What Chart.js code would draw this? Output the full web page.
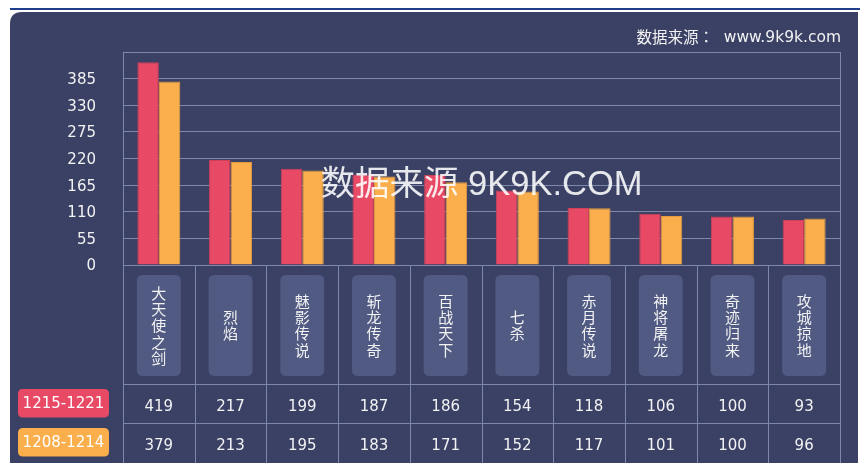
<!DOCTYPE html>
<html><head><meta charset="utf-8">
<script src="https://cdn.jsdelivr.net/npm/chart.js@4"></script>
<style>html,body{margin:0;padding:0;background:#fff;}canvas{display:block;}</style>
</head><body>
<canvas id="c" width="860" height="463"></canvas>
<script>
const categories = ['大天使之剑','烈焰','魅影传说','斩龙传奇','百战天下','七杀','赤月传说','神将屠龙','奇迹归来','攻城掠地'];
const seriesNames = ['1215-1221','1208-1214'];
const week1215 = [419,217,199,187,186,154,118,106,100,93];
const week1208 = [379,213,195,183,171,152,117,101,100,96];
const yTicks = [0,55,110,165,220,275,330,385];
const yMax = 440;
const titleLabel = '数据来源：';
const titleSite = 'www.9k9k.com';
const watermark = '数据来源 9K9K.COM';

const RED = '#e84a65', ORANGE = '#fbae4c';
const PANEL = '#3a4165', GRID = '#7f87ab', BOX = '#505a82', TXT = '#f2f2f2';
const NUMFONT = '15px "DejaVu Sans", sans-serif';

function rr(ctx,x,y,w,h,r){ctx.beginPath();ctx.moveTo(x+r,y);ctx.lineTo(x+w-r,y);ctx.quadraticCurveTo(x+w,y,x+w,y+r);ctx.lineTo(x+w,y+h-r);ctx.quadraticCurveTo(x+w,y+h,x+w-r,y+h);ctx.lineTo(x+r,y+h);ctx.quadraticCurveTo(x,y+h,x,y+h-r);ctx.lineTo(x,y+r);ctx.quadraticCurveTo(x,y,x+r,y);ctx.closePath();}

const deco = {
  id:'deco',
  beforeDraw(chart){
    const ctx = chart.ctx;
    ctx.save();
    ctx.fillStyle = '#ffffff'; ctx.fillRect(0,0,860,463);
    ctx.fillStyle = '#1f3f8c'; ctx.fillRect(10,8,850,2);
    ctx.fillStyle = PANEL;
    ctx.beginPath();
    ctx.moveTo(10,463); ctx.lineTo(10,24); ctx.quadraticCurveTo(10,12,22,12);
    ctx.lineTo(858,12); ctx.lineTo(858,463); ctx.closePath(); ctx.fill();
    ctx.restore();
  },
  afterDatasetsDraw(chart){
    const ctx = chart.ctx, a = chart.chartArea;
    ctx.save();
    ctx.font = '34.5px "Liberation Sans", "Noto Sans CJK SC", sans-serif';
    ctx.fillStyle = 'rgba(255,255,255,0.88)';
    ctx.textAlign = 'center'; ctx.textBaseline = 'middle';
    ctx.fillText(watermark, (a.left+a.right)/2, 185);
    ctx.restore();
  },
  afterDraw(chart){
    const ctx = chart.ctx, a = chart.chartArea, x = chart.scales.x;
    const n = categories.length;
    const colW = (a.right - a.left)/n;
    ctx.save();
    // title
    ctx.fillStyle = TXT;
    ctx.textAlign = 'right'; ctx.textBaseline = 'middle';
    ctx.font = '15.5px "DejaVu Sans", sans-serif';
    ctx.fillText(titleSite, 841, 38);
    ctx.font = '15.5px "Noto Sans CJK JP", sans-serif';
    ctx.fillText(titleLabel, 714, 37);
    // grid below axis
    ctx.strokeStyle = GRID; ctx.lineWidth = 1;
    ctx.beginPath();
    ctx.moveTo(a.right+0.5, a.top); ctx.lineTo(a.right+0.5, 463);
    for(let i=0;i<n;i++){
      const xl = Math.round(a.left + i*colW)+0.5;
      ctx.moveTo(xl, a.bottom); ctx.lineTo(xl, 463);
    }
    ctx.moveTo(a.left, 384.5); ctx.lineTo(a.right, 384.5);
    ctx.moveTo(a.left, 423.5); ctx.lineTo(a.right, 423.5);
    ctx.stroke();
    // category boxes
    for(let i=0;i<n;i++){
      const cx = x.getPixelForValue(i);
      ctx.fillStyle = BOX;
      rr(ctx, cx-22, 275, 44, 101, 6); ctx.fill();
      const chars = Array.from(categories[i]);
      const step = 16.3;
      const y0 = 325.5 - (chars.length-1)*step/2;
      ctx.fillStyle = TXT;
      ctx.font = '15px "Noto Sans CJK SC", sans-serif';
      ctx.textAlign = 'center'; ctx.textBaseline = 'middle';
      chars.forEach((c,k)=>ctx.fillText(c, cx, y0 + k*step));
      ctx.font = NUMFONT;
      ctx.fillText(String(week1215[i]), cx, 407);
      ctx.fillText(String(week1208[i]), cx, 446);
    }
    // row legends
    const leg = [[seriesNames[0], RED, 389],[seriesNames[1], ORANGE, 428]];
    leg.forEach(([t,c,y])=>{
      ctx.fillStyle = c; rr(ctx, 18, y, 91, 28.5, 5); ctx.fill();
      ctx.fillStyle = '#ffffff'; ctx.font = NUMFONT;
      ctx.textAlign='center'; ctx.textBaseline='middle';
      ctx.fillText(t, 63.5, y+15.5);
    });
    ctx.restore();
  }
};

new Chart(document.getElementById('c'), {
  type:'bar',
  data:{
    labels: categories,
    datasets:[
      {label:seriesNames[0], data:week1215, backgroundColor:RED, borderColor:'#cf3f58', borderWidth:1, categoryPercentage:0.6, barPercentage:1},
      {label:seriesNames[1], data:week1208, backgroundColor:ORANGE, borderColor:'#e39a3f', borderWidth:1, categoryPercentage:0.6, barPercentage:1}
    ]
  },
  options:{
    responsive:false, animation:false, maintainAspectRatio:false,
    layout:{padding:{left:0, top:52, right:20, bottom:198}},
    plugins:{legend:{display:false}, tooltip:{enabled:false}, title:{display:false}},
    scales:{
      x:{display:false},
      y:{
        min:0, max:yMax,
        afterFit(s){ s.width = 123; },
        afterBuildTicks(s){ s.ticks = yTicks.concat([yMax]).map(v=>({value:v})); },
        ticks:{color:TXT, font:{family:'"DejaVu Sans", sans-serif', size:15}, padding:27, labelOffset:1.5,
          callback:(v)=> yTicks.includes(v) ? String(v) : ''},
        grid:{color:GRID, lineWidth:1, drawTicks:false},
        border:{display:true, color:GRID}
      }
    }
  },
  plugins:[deco]
});
</script>
</body></html>
